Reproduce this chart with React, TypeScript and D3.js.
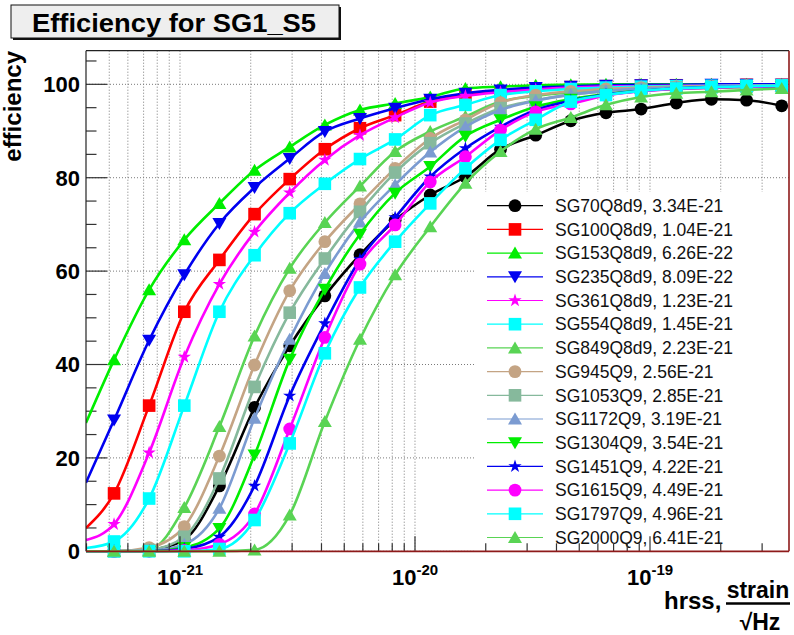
import React from 'react';
import * as d3 from 'd3';

const W = 794;
const H = 635;

// hrss values of the simulated injections (x positions of markers)
const hrss = [5.24e-22, 7.39e-22, 1.043e-21, 1.471e-21, 2.076e-21, 2.93e-21, 4.134e-21, 5.833e-21, 8.231e-21, 1.161e-20,
  1.639e-20, 2.312e-20, 3.263e-20, 4.604e-20, 6.497e-20, 9.168e-20, 1.294e-19, 1.826e-19, 2.576e-19, 3.635e-19];

const names = ['SG70Q8d9', 'SG100Q8d9', 'SG153Q8d9', 'SG235Q8d9', 'SG361Q8d9', 'SG554Q8d9', 'SG849Q8d9', 'SG945Q9',
  'SG1053Q9', 'SG1172Q9', 'SG1304Q9', 'SG1451Q9', 'SG1615Q9', 'SG1797Q9', 'SG2000Q9'];
const h50Labels = ['3.34E-21', '1.04E-21', '6.26E-22', '8.09E-22', '1.23E-21', '1.45E-21', '2.23E-21', '2.56E-21',
  '2.85E-21', '3.19E-21', '3.54E-21', '4.22E-21', '4.49E-21', '4.96E-21', '6.41E-21'];
const colors = ['#000000', '#ff0000', '#00ee00', '#0000f0', '#ff00ff', '#00ffff', '#59d454', '#c4a484',
  '#86b99c', '#7b9bd1', '#00ee00', '#0000f0', '#ff00ff', '#00ffff', '#59d454'];
const shapes = ['circle', 'square', 'triUp', 'triDown', 'star', 'square', 'triUp', 'circle',
  'square', 'triUp', 'triDown', 'star', 'circle', 'square', 'triUp'];

// fitted curve value at the left edge of the frame
const curveStart = [0, 5.0, 27.5, 14.7, 2.4, 0.7, 0, 0, 0, 0, 0, 0, 0, 0, 0];

const sg70 = [0, 0.3, 2.5, 14.0, 30.8, 44.0, 54.7, 63.5, 70.9, 76.3, 80.2, 86.1, 89.1, 92.2, 93.9, 94.7, 96.0, 96.8, 96.6, 95.4];
const sg100 = [12.4, 31.2, 51.3, 62.4, 72.2, 79.7, 86.1, 90.6, 93.4, 96.3, 97.7, 98.5, 99.0, 99.4, 99.6, 99.7, 99.8, 99.8, 99.9, 99.9];
const sg153 = [41.0, 56.0, 66.7, 74.5, 81.6, 86.6, 91.3, 94.5, 95.9, 97.3, 99.1, 99.5, 99.8, 99.9, 100, 100, 100, 100, 100, 100];
const sg235 = [28.1, 45.2, 59.2, 70.2, 77.9, 84.1, 89.9, 92.7, 94.9, 96.8, 98.1, 98.8, 99.3, 99.6, 99.8, 99.9, 99.9, 100, 100, 100];
const sg361 = [5.8, 21.1, 41.6, 57.2, 68.4, 76.8, 83.8, 89.1, 92.9, 96.1, 97.5, 98.3, 98.9, 99.3, 99.5, 99.6, 99.7, 99.7, 99.8, 99.8];
const sg554 = [2.1, 11.3, 31.2, 51.3, 63.4, 72.4, 78.7, 84.0, 88.2, 93.4, 95.6, 97.7, 98.5, 99.0, 99.3, 99.5, 99.6, 99.7, 99.7, 99.8];
const sg849 = [0, 0.3, 9.4, 26.7, 46.1, 60.6, 70.4, 78.2, 85.6, 89.9, 93.1, 96.3, 97.5, 98.3, 98.8, 99.2, 99.4, 99.5, 99.6, 99.7];
const sg945 = [0, 0.8, 5.3, 20.4, 39.9, 55.8, 66.3, 74.4, 82.0, 88.4, 92.4, 96.1, 97.7, 98.5, 99.0, 99.3, 99.5, 99.6, 99.7, 99.7];
const sg1053 = [0, 0.3, 3.1, 15.6, 35.2, 51.1, 62.7, 72.7, 81.1, 87.4, 91.6, 94.9, 96.6, 97.8, 98.5, 99.0, 99.3, 99.4, 99.5, 99.6];
const sg1172 = [0, 0.1, 1.5, 9.2, 28.5, 45.4, 59.5, 70.5, 78.5, 85.5, 90.9, 94.5, 96.5, 97.8, 98.6, 99.1, 99.3, 99.5, 99.6, 99.6];
const sg1304 = [0, 0, 0.8, 4.9, 20.6, 41.1, 56.1, 67.9, 76.7, 82.4, 88.9, 92.4, 95.2, 96.8, 97.9, 98.6, 99.0, 99.3, 99.4, 99.5];
const sg1451 = [0, 0, 0.5, 3.1, 14.0, 33.3, 48.8, 62.5, 71.5, 80.2, 86.3, 90.9, 94.5, 96.5, 97.8, 98.6, 99.1, 99.4, 99.5, 99.6];
const sg1615 = [0, 0, 0.2, 1.5, 8.0, 26.2, 45.8, 61.5, 69.9, 79.1, 84.5, 90.2, 94.1, 95.8, 97.6, 98.5, 99.0, 99.3, 99.5, 99.6];
const sg1797 = [0, 0, 0, 0.5, 6.7, 23.1, 42.4, 56.5, 66.3, 74.5, 82.0, 88.1, 92.4, 96.3, 97.7, 98.6, 99.1, 99.4, 99.6, 99.7];
const sg2000 = [0, 0, 0, 0, 0.3, 7.8, 27.8, 45.4, 59.2, 69.5, 78.8, 85.6, 90.4, 92.9, 95.6, 97.3, 98.1, 98.4, 98.8, 99.1];

const seriesValues = [sg70, sg100, sg153, sg235, sg361, sg554, sg849, sg945, sg1053, sg1172, sg1304, sg1451, sg1615, sg1797, sg2000];

const yMajorTicks = [0, 20, 40, 60, 80, 100];
const xDecades = [1e-21, 1e-20, 1e-19];
const xDecadeExp = ['-21', '-20', '-19'];

const FONT = '"Liberation Sans", Arial, Helvetica, sans-serif';

const frame = { left: 86, top: 50.7, right: 789, bottom: 551.3 };
const x = d3.scaleLog().domain([Math.pow(10, -21.4), Math.pow(10, -18.4085)]).range([frame.left, frame.right]);
const y = d3.scaleLinear().domain([0, 107.2]).range([frame.bottom, frame.top]);

function Marker({ shape, cx, cy, color }: { shape: string; cx: number; cy: number; color: string }) {
  if (shape === 'circle') return <circle cx={cx} cy={cy} r={6.4} fill={color} />;
  if (shape === 'square') return <rect x={cx - 6.3} y={cy - 6.3} width={12.6} height={12.6} fill={color} />;
  if (shape === 'triUp')
    return <path d={`M${cx},${cy - 6.5}L${cx + 7},${cy + 5.5}L${cx - 7},${cy + 5.5}Z`} fill={color} />;
  if (shape === 'triDown')
    return <path d={`M${cx},${cy + 6.5}L${cx + 7},${cy - 5.5}L${cx - 7},${cy - 5.5}Z`} fill={color} />;
  const p = d3.symbol().type(d3.symbolStar).size(55)() as string;
  return <path d={p} transform={`translate(${cx},${cy})`} fill={color} />;
}

export default function App() {
  const line = d3
    .line<[number, number]>()
    .x((d) => x(d[0]))
    .y((d) => y(d[1]))
    .curve(d3.curveMonotoneX);

  const xTicks = x.ticks();
  const yMinor = d3.range(0, 107.2, 5);

  const legendTop = 192;
  const legendRow = 23.7;
  const legendFirst = 205.7;

  return (
    <svg
      width={W}
      height={H}
      viewBox={`0 0 ${W} ${H}`}
      style={{ position: 'absolute', left: 0, top: 0, display: 'block', background: '#fff' }}
      fontFamily={FONT}
    >
      <defs>
        <clipPath id="frameClip">
          <rect x={frame.left} y={frame.top} width={frame.right - frame.left} height={frame.bottom - frame.top + 2} />
        </clipPath>
      </defs>
      <rect x={0} y={0} width={W} height={H} fill="#fff" />

      {/* grid */}
      <g stroke="#7a7a7a" strokeWidth={1} strokeDasharray="1 2">
        {xTicks
          .filter((t) => x(t) > frame.left + 2 && x(t) < frame.right - 2)
          .map((t, i) => (
            <line key={'gx' + i} x1={x(t)} x2={x(t)} y1={frame.top} y2={frame.bottom} />
          ))}
        {yMajorTicks.map((t) => (
          <line key={'gy' + t} x1={frame.left} x2={frame.right} y1={y(t)} y2={y(t)} />
        ))}
      </g>

      {/* y ticks */}
      <g stroke="#333" strokeWidth={1.2}>
        {yMinor.map((t) => (
          <line key={'yt' + t} x1={frame.left} x2={frame.left + (t % 20 === 0 ? 21 : 10.5)} y1={y(t)} y2={y(t)} />
        ))}
      </g>

      {/* curves and markers */}
      <g>
        {seriesValues.map((vals, i) => {
          const pts: [number, number][] = [[x.domain()[0], curveStart[i]], ...hrss.map((h, j) => [h, vals[j]] as [number, number])];
          return (
            <g key={'s' + i}>
              <path d={line(pts) as string} fill="none" stroke={colors[i]} strokeWidth={2.6} clipPath="url(#frameClip)" />
              {vals.map((v, j) => (
                <Marker key={j} shape={shapes[i]} cx={x(hrss[j])} cy={y(v)} color={colors[i]} />
              ))}
            </g>
          );
        })}
      </g>

      {/* legend */}
      <rect x={475} y={legendTop} width={frame.right - 475} height={frame.bottom - legendTop} fill="#fff" />
      {names.map((n, i) => {
        const cy = legendFirst + i * legendRow;
        return (
          <g key={'lg' + i}>
            <line x1={487} x2={543} y1={cy} y2={cy} stroke={colors[i]} strokeWidth={1.2} />
            <Marker shape={shapes[i]} cx={515} cy={cy} color={colors[i]} />
            <text x={555} y={cy + 6.2} fontSize={17.5} fill="#111">
              {`${n}, ${h50Labels[i]}`}
            </text>
          </g>
        );
      })}

      {/* x ticks */}
      <g stroke="#333" strokeWidth={1.2}>
        {xTicks
          .filter((t) => x(t) >= frame.left && x(t) <= frame.right)
          .map((t, i) => {
            const major = xDecades.some((d) => Math.abs(Math.log10(d) - Math.log10(t)) < 1e-6);
            return <line key={'xt' + i} x1={x(t)} x2={x(t)} y1={frame.bottom} y2={frame.bottom - (major ? 15 : 8)} />;
          })}
      </g>

      {/* frame */}
      <line x1={frame.left} x2={frame.left} y1={frame.top} y2={frame.bottom} stroke="#222" strokeWidth={1.2} />
      <line x1={frame.left} x2={frame.right} y1={frame.top} y2={frame.top} stroke="#222" strokeWidth={1.2} />
      <line x1={frame.right} x2={frame.right} y1={frame.top} y2={frame.bottom} stroke="#8e1a1a" strokeWidth={1.6} />
      <line x1={frame.left} x2={frame.right} y1={frame.bottom} y2={frame.bottom} stroke="#8e1a1a" strokeWidth={1.8} />

      {/* y labels */}
      {yMajorTicks.map((t) => (
        <text key={'yl' + t} x={80} y={y(t)} dy="0.36em" textAnchor="end" fontSize={22} fontWeight="bold" fill="#000">
          {t}
        </text>
      ))}

      {/* x labels */}
      {xDecades.map((d, i) => (
        <text key={'xl' + i} x={x(d)} y={585} textAnchor="middle" fontWeight="bold" fill="#000">
          <tspan fontSize={22}>10</tspan>
          <tspan fontSize={15} dy={-10}>{xDecadeExp[i]}</tspan>
        </text>
      ))}

      {/* axis titles */}
      <text transform="translate(21,51) rotate(-90)" textAnchor="end" fontSize={24} fontWeight="bold" fill="#000">
        efficiency
      </text>
      <text x={664} y={609} fontSize={24} fontWeight="bold" fill="#000">
        hrss,
      </text>
      <text x={758} y={598} textAnchor="middle" fontSize={23} fontWeight="bold" fill="#000">
        strain
      </text>
      <line x1={726} x2={790} y1={603.5} y2={603.5} stroke="#000" strokeWidth={2.4} />
      <text x={760} y={630} textAnchor="middle" fontSize={23} fontWeight="bold" fill="#000">
        √Hz
      </text>

      {/* title */}
      <rect x={13} y={7} width={328} height={33} fill="#111" />
      <rect x={11} y={5} width={328} height={33} fill="#eeeeee" stroke="#111" strokeWidth={1} />
      <text x={32} y={32} fontSize={25} fontWeight="bold" fill="#000" textLength={284} lengthAdjust="spacingAndGlyphs">
        Efficiency for SG1_S5
      </text>
    </svg>
  );
}
